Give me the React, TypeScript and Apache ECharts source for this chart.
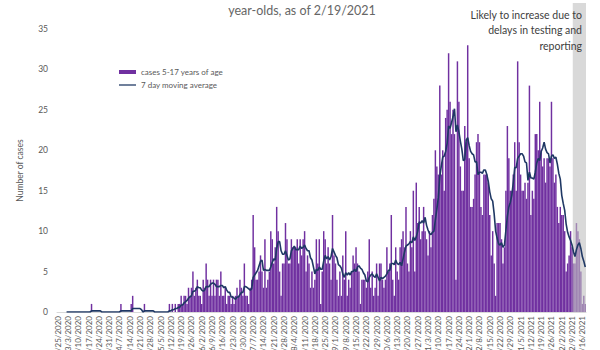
import React, { useEffect, useRef } from "react";
import * as echarts from "echarts";

// ---- data ----
const START_DATE = "2020-02-25";
const TITLE = "year-olds, as of 2/19/2021";
const BAR_NAME = "cases 5-17 years of age";
const LINE_NAME = "7 day moving average";
const NOTE_LINES = ["Likely to increase due to", "delays in testing and", "reporting"];
const BAND_START_INDEX = 351; // first day of the "likely to increase" shaded period
const Y_TICKS = [0, 5, 10, 15, 20, 25, 30, 35];

// daily cases, one value per day starting 2/25/2020
const cases: number[] = [
  0, 0, 0, 0, 0, 0, 0, 0, 0, 0, 0, 0, 0, 0, 0, 0, 0, 0, 0, 0,
  0, 0, 0, 1, 0, 0, 0, 0, 0, 0, 0, 0, 0, 0, 0, 0, 0, 0, 0, 0,
  0, 0, 0, 1, 0, 0, 0, 0, 0, 0, 1, 2, 0, 0, 0, 0, 0, 0, 0, 1,
  0, 0, 0, 0, 0, 0, 0, 0, 0, 0, 0, 0, 0, 0, 0, 0, 1, 0, 1, 0,
  1, 0, 1, 1, 2, 1, 2, 2, 1, 3, 2, 3, 5, 2, 3, 4, 2, 2, 1, 4,
  3, 6, 4, 2, 4, 2, 4, 2, 4, 4, 2, 5, 2, 2, 3, 1, 2, 2, 1, 2,
  1, 2, 3, 2, 4, 3, 2, 6, 2, 2, 1, 3, 4, 12, 8, 4, 4, 5, 7, 5,
  3, 9, 3, 4, 5, 10, 9, 6, 8, 13, 10, 5, 2, 6, 6, 11, 9, 6, 6, 9,
  8, 8, 8, 9, 6, 9, 7, 9, 10, 5, 7, 6, 3, 5, 3, 4, 9, 6, 9, 1,
  5, 10, 9, 6, 8, 6, 4, 12, 7, 6, 4, 2, 5, 2, 7, 4, 10, 2, 4, 3,
  5, 7, 6, 8, 6, 5, 1, 4, 4, 4, 3, 5, 9, 3, 5, 2, 3, 6, 2, 6,
  6, 4, 3, 4, 8, 5, 6, 12, 4, 2, 8, 5, 4, 8, 9, 10, 8, 13, 6, 5,
  10, 8, 15, 5, 16, 11, 13, 9, 10, 13, 10, 9, 7, 10, 8, 12, 14, 20, 18, 17,
  28, 17, 20, 15, 24, 25, 32, 26, 22, 25, 22, 4, 31, 26, 18, 15, 15, 23, 21, 33,
  19, 13, 13, 14, 17, 21, 22, 21, 13, 12, 17, 17, 17, 16, 12, 7, 10, 6, 2, 11,
  11, 11, 9, 6, 8, 15, 23, 19, 15, 15, 17, 21, 15, 31, 21, 17, 15, 15, 16, 14,
  16, 28, 12, 15, 14, 22, 22, 20, 26, 20, 18, 19, 16, 19, 19, 18, 26, 19, 16, 17,
  13, 11, 13, 12, 12, 10, 5, 6, 7, 10, 8, 6, 6, 11, 10, 9, 5, 1, 2, 1,
];

const FONT = "Lato";

function buildDates(start: string, n: number): string[] {
  const d0 = new Date(start + "T00:00:00Z").getTime();
  const out: string[] = [];
  for (let i = 0; i < n; i++) {
    const d = new Date(d0 + i * 86400000);
    out.push(`${d.getUTCMonth() + 1}/${d.getUTCDate()}/${d.getUTCFullYear()}`);
  }
  return out;
}

function movingAverage(values: number[], w: number): (number | null)[] {
  return values.map((_, i) => {
    if (i < w - 1) return null;
    let s = 0;
    for (let k = i - w + 1; k <= i; k++) s += values[k];
    return +(s / w).toFixed(3);
  });
}

export default function App() {
  const ref = useRef<HTMLDivElement | null>(null);

  useEffect(() => {
    if (!ref.current) return;
    const chart = echarts.init(ref.current, null, { renderer: "svg" });
    const dates = buildDates(START_DATE, cases.length);
    const avg = movingAverage(cases, 7);

    const titleText = {
      type: "text",
      x: 302,
      y: 4,
      z: 10,
      style: {
        text: TITLE,
        fill: "#666666",
        fontSize: 12.5,
        fontWeight: "normal",
        fontFamily: FONT,
        align: "center",
        verticalAlign: "top",
      },
    };

    chart.setOption({
      animation: false,
      textStyle: { fontFamily: FONT },
      grid: {
        left: 57,
        right: 14,
        top: 29,
        bottom: 38,
        containLabel: false,
        outerBoundsMode: "none",
      },
      legend: {
        orient: "vertical",
        left: 114,
        top: 63,
        itemWidth: 17,
        itemHeight: 4,
        itemGap: 5,
        textStyle: { fontSize: 8, color: "#595959", fontFamily: FONT },
        data: [
          { name: BAR_NAME, icon: "rect" },
          { name: LINE_NAME, icon: "path://M0,0 H40 V3 H0 Z" },
        ],
      },
      xAxis: {
        type: "category",
        data: dates,
        boundaryGap: true,
        axisLine: { lineStyle: { color: "#D9D9D9", width: 1 } },
        axisTick: { show: false },
        axisLabel: {
          interval: 6,
          rotate: 90,
          fontSize: 8,
          color: "#595959",
          margin: 4,
          fontFamily: FONT,
          hideOverlap: false,
        },
      },
      yAxis: {
        type: "value",
        min: Y_TICKS[0],
        max: Y_TICKS[Y_TICKS.length - 1],
        interval: Y_TICKS[1] - Y_TICKS[0],
        splitLine: { show: false },
        axisLine: { show: false },
        axisTick: { show: false },
        axisLabel: { fontSize: 8.5, color: "#595959", margin: 9, fontFamily: FONT },
        name: "Number of cases",
        nameLocation: "middle",
        nameRotate: 90,
        nameGap: 33,
        nameTextStyle: { fontSize: 8.5, color: "#595959", fontFamily: FONT },
      },
      series: [
        {
          name: BAR_NAME,
          type: "bar",
          data: cases,
          barCategoryGap: "0%",
          itemStyle: { color: "#7030A0" },
          z: 2,
        },
        {
          name: LINE_NAME,
          type: "line",
          data: avg,
          symbol: "none",
          showSymbol: false,
          lineStyle: { color: "#1F3864", width: 1.6 },
          itemStyle: { color: "#1F3864" },
          z: 5,
        },
      ],
      graphic: [titleText],
    });

    // shaded band and its note, positioned through the axis scales
    const c0 = chart.convertToPixel({ xAxisIndex: 0 }, dates[BAND_START_INDEX]) as number;
    const c1 = chart.convertToPixel({ xAxisIndex: 0 }, dates[BAND_START_INDEX + 1]) as number;
    const cLast = chart.convertToPixel({ xAxisIndex: 0 }, dates[dates.length - 1]) as number;
    const bw = c1 - c0;
    const left = c0 - bw / 2;
    const right = cLast + bw / 2;
    const yBase = chart.convertToPixel({ yAxisIndex: 0 }, 0) as number;

    chart.setOption({
      graphic: [
        titleText,
        {
          type: "rect",
          z: 3,
          shape: { x: left, y: 3, width: right - left, height: yBase - 3 },
          style: { fill: "rgba(191,191,191,0.6)" },
        },
        {
          type: "text",
          x: right - 4,
          y: 7,
          z: 10,
          style: {
            text: NOTE_LINES.join("\n"),
            fill: "#404040",
            fontSize: 10.5,
            lineHeight: 15.5,
            fontFamily: FONT,
            align: "right",
            verticalAlign: "top",
          },
        },
      ],
    });

    return () => chart.dispose();
  }, []);

  return (
    <div
      ref={ref}
      style={{ position: "fixed", left: 0, top: 0, width: 600, height: 350, background: "#fff" }}
    />
  );
}
